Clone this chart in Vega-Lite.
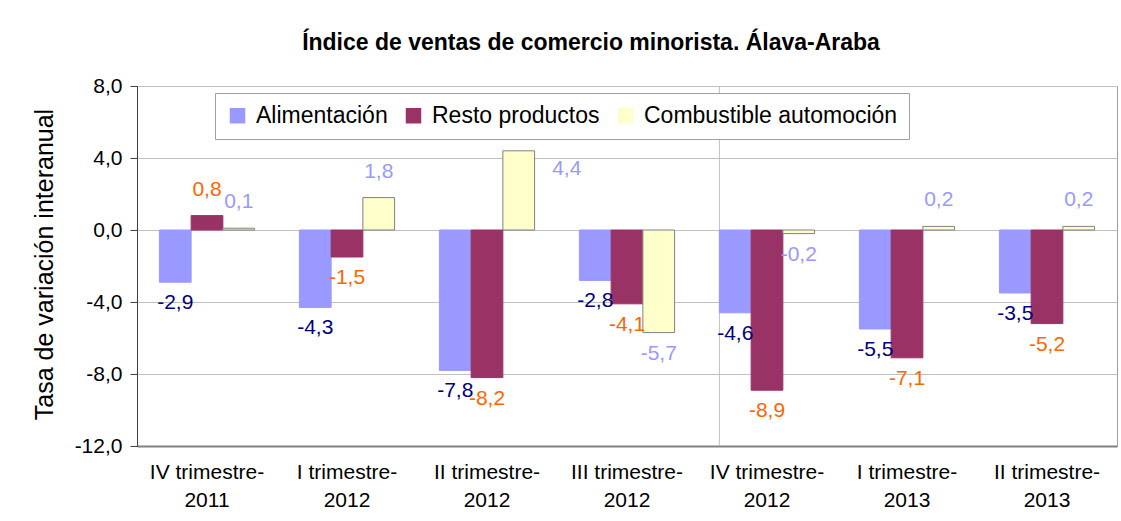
{
  "$schema": "https://vega.github.io/schema/vega-lite/v6.json",
  "autosize": {"type": "none"},
  "width": 980,
  "height": 360,
  "padding": {"left": 137, "top": 86, "right": 4, "bottom": 75},
  "background": "white",
  "title": {
    "text": "Índice de ventas de comercio minorista. Álava-Araba",
    "font": "Liberation Sans",
    "fontWeight": "bold",
    "fontSize": 23,
    "color": "black",
    "anchor": "middle",
    "dx": -36,
    "baseline": "alphabetic",
    "offset": 2
  },
  "config": {
    "locale": {"number": {"decimal": ",", "thousands": ".", "grouping": [3], "currency": ["", " €"], "minus": "-"}},
    "font": "Liberation Sans",
    "view": {"stroke": "#a0a0a0", "strokeWidth": 1}
  },
  "datasets": {
    "main": [
      {"cat": "IV trimestre-2011", "series": "Alimentación", "value": -2.9},
      {"cat": "IV trimestre-2011", "series": "Resto productos", "value": 0.8},
      {"cat": "IV trimestre-2011", "series": "Combustible automoción", "value": 0.1},
      {"cat": "I trimestre-2012", "series": "Alimentación", "value": -4.3},
      {"cat": "I trimestre-2012", "series": "Resto productos", "value": -1.5},
      {"cat": "I trimestre-2012", "series": "Combustible automoción", "value": 1.8},
      {"cat": "II trimestre-2012", "series": "Alimentación", "value": -7.8},
      {"cat": "II trimestre-2012", "series": "Resto productos", "value": -8.2},
      {"cat": "II trimestre-2012", "series": "Combustible automoción", "value": 4.4},
      {"cat": "III trimestre-2012", "series": "Alimentación", "value": -2.8},
      {"cat": "III trimestre-2012", "series": "Resto productos", "value": -4.1},
      {"cat": "III trimestre-2012", "series": "Combustible automoción", "value": -5.7},
      {"cat": "IV trimestre-2012", "series": "Alimentación", "value": -4.6},
      {"cat": "IV trimestre-2012", "series": "Resto productos", "value": -8.9},
      {"cat": "IV trimestre-2012", "series": "Combustible automoción", "value": -0.2},
      {"cat": "I trimestre-2013", "series": "Alimentación", "value": -5.5},
      {"cat": "I trimestre-2013", "series": "Resto productos", "value": -7.1},
      {"cat": "I trimestre-2013", "series": "Combustible automoción", "value": 0.2},
      {"cat": "II trimestre-2013", "series": "Alimentación", "value": -3.5},
      {"cat": "II trimestre-2013", "series": "Resto productos", "value": -5.2},
      {"cat": "II trimestre-2013", "series": "Combustible automoción", "value": 0.2}
    ],
    "divider": [{"cat": "IV trimestre-2012"}]
  },
  "encoding": {
    "x": {
      "field": "cat", "type": "nominal", "sort": null,
      "scale": {"domain": ["IV trimestre-2011", "I trimestre-2012", "II trimestre-2012", "III trimestre-2012", "IV trimestre-2012", "I trimestre-2013", "II trimestre-2013"], "paddingInner": 0.32, "paddingOuter": 0.16},
      "axis": {
        "title": null, "labelAngle": 0, "ticks": false, "grid": false,
        "labelExpr": "[slice(datum.label, 0, -4), slice(datum.label, -4)]",
        "labelFontSize": 21, "labelLineHeight": 28, "labelPadding": 15, "labelColor": "black",
        "domainColor": "#808080", "domainWidth": 2
      }
    }
  },
  "layer": [
    {
      "data": {"name": "divider"},
      "mark": {"type": "rule", "color": "#c0c0c0", "strokeWidth": 1},
      "encoding": {"x": {"field": "cat", "type": "nominal", "bandPosition": 0}}
    },
    {
      "data": {"name": "main"},
      "mark": {"type": "bar", "strokeWidth": 1},
      "encoding": {
        "xOffset": {"field": "series", "type": "nominal", "scale": {"domain": ["Alimentación", "Resto productos", "Combustible automoción"], "paddingInner": 0}},
        "y": {
          "field": "value", "type": "quantitative",
          "scale": {"domain": [-12, 8], "nice": false, "zero": false},
          "axis": {
            "values": [-12, -8, -4, 0, 4, 8], "format": ".1f",
            "title": "Tasa de variación interanual", "titleFontSize": 25, "titleFontWeight": "normal", "titleColor": "black",
            "titleX": -93, "titleY": 178, "titleAngle": -90, "titleAlign": "center", "titleBaseline": "middle",
            "labelFontSize": 21, "labelColor": "black", "labelPadding": 8,
            "tickSize": 7, "tickColor": "#404040", "domainColor": "#404040",
            "grid": true, "gridColor": "#c0c0c0"
          }
        },
        "color": {
          "field": "series", "type": "nominal",
          "scale": {"domain": ["Alimentación", "Resto productos", "Combustible automoción"], "range": ["#9999FF", "#993366", "#FFFFCC"]},
          "legend": {
            "title": null, "orient": "none", "legendX": 78, "legendY": 7, "direction": "horizontal",
            "fillColor": "white", "strokeColor": "#a0a0a0", "padding": 11,
            "symbolType": "square", "symbolSize": 240, "labelFontSize": 23, "labelColor": "black", "labelLimit": 0,
            "columnPadding": 14, "labelOffset": 7
          }
        },
        "stroke": {
          "field": "series", "type": "nominal",
          "scale": {"domain": ["Alimentación", "Resto productos", "Combustible automoción"], "range": ["#9999FF", "#993366", "#808080"]},
          "legend": null
        }
      }
    },
    {
      "data": {"name": "main"},
      "transform": [{"filter": "datum.value >= 0 && datum.value < 4"}],
      "mark": {"type": "text", "baseline": "middle", "align": "center", "dy": -26, "fontSize": 21},
      "encoding": {
        "xOffset": {"field": "series", "type": "nominal", "scale": {"domain": ["Alimentación", "Resto productos", "Combustible automoción"], "paddingInner": 0}},
        "y": {"field": "value", "type": "quantitative"},
        "text": {"field": "value", "type": "quantitative", "format": ".1f"},
        "color": {
          "field": "series", "type": "nominal",
          "scale": {"domain": ["Alimentación", "Resto productos", "Combustible automoción"], "range": ["#000080", "#FF6600", "#9999FF"]},
          "legend": null
        }
      }
    },
    {
      "data": {"name": "main"},
      "transform": [{"filter": "datum.value >= 4"}],
      "mark": {"type": "text", "baseline": "middle", "align": "center", "dx": 48, "dy": 18, "fontSize": 21},
      "encoding": {
        "xOffset": {"field": "series", "type": "nominal", "scale": {"domain": ["Alimentación", "Resto productos", "Combustible automoción"], "paddingInner": 0}},
        "y": {"field": "value", "type": "quantitative"},
        "text": {"field": "value", "type": "quantitative", "format": ".1f"},
        "color": {
          "field": "series", "type": "nominal",
          "scale": {"domain": ["Alimentación", "Resto productos", "Combustible automoción"], "range": ["#000080", "#FF6600", "#9999FF"]},
          "legend": null
        }
      }
    },
    {
      "data": {"name": "main"},
      "transform": [{"filter": "datum.value < 0"}],
      "mark": {"type": "text", "baseline": "middle", "align": "center", "dy": 21, "fontSize": 21},
      "encoding": {
        "xOffset": {"field": "series", "type": "nominal", "scale": {"domain": ["Alimentación", "Resto productos", "Combustible automoción"], "paddingInner": 0}},
        "y": {"field": "value", "type": "quantitative"},
        "text": {"field": "value", "type": "quantitative", "format": ".1f"},
        "color": {
          "field": "series", "type": "nominal",
          "scale": {"domain": ["Alimentación", "Resto productos", "Combustible automoción"], "range": ["#000080", "#FF6600", "#9999FF"]},
          "legend": null
        }
      }
    }
  ],
  "resolve": {"scale": {"color": "independent"}}
}
